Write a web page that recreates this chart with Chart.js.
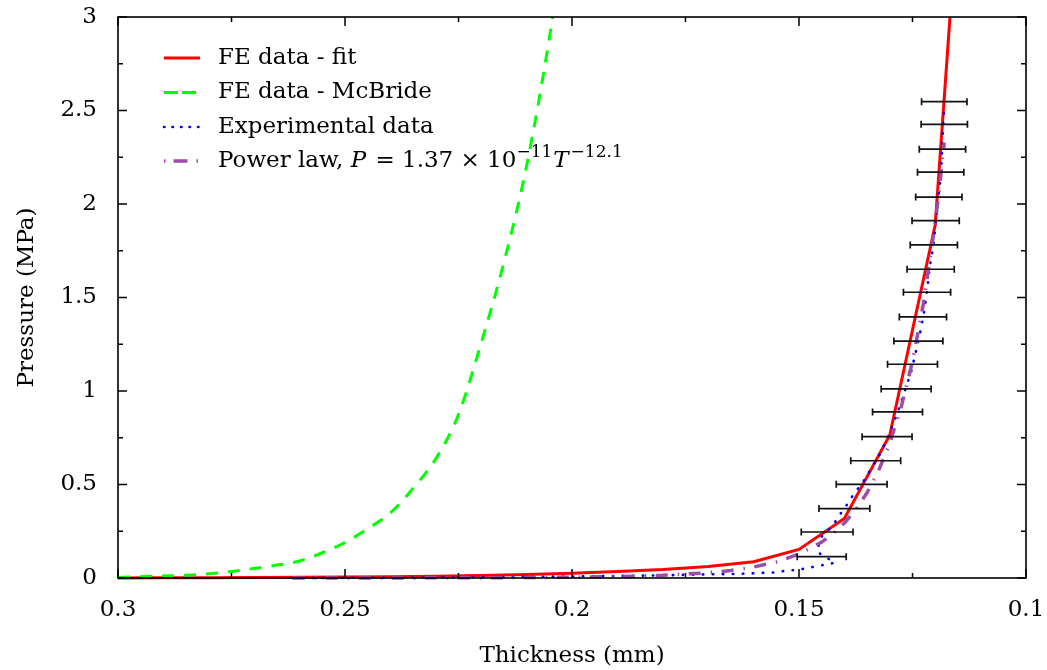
<!DOCTYPE html>
<html><head><meta charset="utf-8">
<script src="https://cdn.jsdelivr.net/npm/chart.js@4.4.1/dist/chart.umd.min.js"></script>
<style>html,body{margin:0;padding:0;background:#fff;}#wrap{width:1047px;height:670px;}</style>
</head><body><div id="wrap"><canvas id="c" width="1047" height="670"></canvas></div>
<script>
// ---- data (thickness in mm, pressure in MPa) ----
const xTickLabels = ['0.3', '0.25', '0.2', '0.15', '0.1'];
const yTickLabels = ['0', '0.5', '1', '1.5', '2', '2.5', '3'];

const fitThickness = [0.30, 0.29, 0.28, 0.27, 0.26, 0.25, 0.24, 0.23, 0.22, 0.21, 0.20, 0.19, 0.18, 0.17, 0.16, 0.15, 0.14, 0.13, 0.12, 0.11];
const fitPressure  = [0.000, 0.001, 0.002, 0.003, 0.004, 0.005, 0.007, 0.010, 0.013, 0.019, 0.026, 0.035, 0.045, 0.061, 0.087, 0.153, 0.318, 0.765, 1.888, 5.30];

const mcbrideThickness = [0.300, 0.295, 0.290, 0.285, 0.280, 0.275, 0.270, 0.265, 0.260, 0.255, 0.250, 0.245, 0.240, 0.235, 0.230, 0.225, 0.220, 0.215, 0.210, 0.205, 0.200];
const mcbridePressure  = [0.003, 0.007, 0.011, 0.015, 0.023, 0.035, 0.051, 0.069, 0.091, 0.135, 0.190, 0.264, 0.348, 0.480, 0.638, 0.874, 1.257, 1.687, 2.204, 2.884, 3.700];

const expThickness = [0.2615, 0.250, 0.240, 0.230, 0.220, 0.210, 0.200, 0.190, 0.180, 0.1696, 0.1648, 0.1601, 0.1552, 0.1529, 0.1505, 0.1483, 0.1460, 0.1437, 0.1421, 0.1460, 0.1452, 0.1436, 0.1421, 0.1408, 0.1395, 0.1382, 0.1368, 0.1355, 0.1344, 0.1319, 0.1309, 0.1300, 0.1283, 0.1268, 0.1253, 0.1242, 0.1232, 0.1223, 0.1217, 0.1212, 0.1204, 0.1199, 0.1194, 0.1189, 0.1186, 0.1184, 0.1180];
const expPressure  = [0.000, 0.001, 0.002, 0.003, 0.004, 0.006, 0.008, 0.011, 0.014, 0.020, 0.021, 0.025, 0.030, 0.039, 0.043, 0.052, 0.064, 0.073, 0.082, 0.140, 0.218, 0.253, 0.298, 0.346, 0.390, 0.439, 0.485, 0.528, 0.572, 0.675, 0.729, 0.779, 0.884, 0.993, 1.103, 1.216, 1.326, 1.440, 1.555, 1.665, 1.775, 1.891, 2.007, 2.119, 2.226, 2.350, 2.520];

const powerThickness = [0.2615, 0.240, 0.220, 0.200, 0.190, 0.180, 0.170, 0.165, 0.160, 0.155, 0.150, 0.145, 0.1425, 0.140, 0.1375, 0.135, 0.1325, 0.130, 0.1275, 0.125, 0.1225, 0.120, 0.119, 0.118];
const powerPressure  = [0.0002, 0.0004, 0.0012, 0.0039, 0.0073, 0.0141, 0.0281, 0.0403, 0.0585, 0.0858, 0.1277, 0.1923, 0.2375, 0.2942, 0.3658, 0.4568, 0.5726, 0.7214, 0.9125, 1.1588, 1.479, 1.899, 2.101, 2.329];

const barPressure  = [0.114, 0.246, 0.371, 0.501, 0.627, 0.756, 0.888, 1.011, 1.143, 1.267, 1.396, 1.528, 1.651, 1.781, 1.911, 2.037, 2.170, 2.293, 2.426, 2.547];
const barThickness = [0.1450, 0.1438, 0.1400, 0.1362, 0.1331, 0.1306, 0.1283, 0.1264, 0.1250, 0.1237, 0.1227, 0.1218, 0.1210, 0.1203, 0.1199, 0.1192, 0.1188, 0.1184, 0.1180, 0.1180];
const barError     = [0.0054, 0.0057, 0.0056, 0.0056, 0.0055, 0.0055, 0.0055, 0.0055, 0.0055, 0.0054, 0.0052, 0.0052, 0.0052, 0.0052, 0.0052, 0.0051, 0.0051, 0.0051, 0.0051, 0.0050];

const seriesLabels = ['FE data - fit', 'FE data - McBride', 'Experimental data', 'Power law, P = 1.37 × 10−11 T−12.1'];

// ---- drawing ----
const FAM = '"DejaVu Serif", serif';
const FS = 23;
const pts = (xs, ys) => xs.map((v, i) => ({x: v, y: ys[i]}));
const CLIP = {left: 2, top: 0, right: 0, bottom: 3};

const errorBars = {
  id: 'errorBars',
  afterDatasetsDraw(chart) {
    const {ctx, scales: {x, y}} = chart;
    ctx.save();
    ctx.strokeStyle = '#111'; ctx.lineWidth = 1.7; ctx.setLineDash([]);
    ctx.beginPath();
    barPressure.forEach((p, i) => {
      const py = y.getPixelForValue(p);
      const x1 = x.getPixelForValue(barThickness[i] - barError[i]);
      const x2 = x.getPixelForValue(barThickness[i] + barError[i]);
      ctx.moveTo(x1, py); ctx.lineTo(x2, py);
      ctx.moveTo(x1, py - 3.5); ctx.lineTo(x1, py + 3.5);
      ctx.moveTo(x2, py - 3.5); ctx.lineTo(x2, py + 3.5);
    });
    ctx.stroke();
    ctx.restore();
  }
};

const frameTicks = {
  id: 'frameTicks',
  afterDraw(chart) {
    const {ctx, chartArea: a, scales: {x, y}} = chart;
    ctx.save();
    ctx.strokeStyle = '#000'; ctx.lineWidth = 1.5; ctx.setLineDash([]);
    ctx.beginPath();
    for (let i = 0; i <= 8; i++) {
      const px = x.getPixelForValue(0.1 + i * 0.025);
      const L = i % 2 === 0 ? 9 : 5;
      ctx.moveTo(px, a.bottom); ctx.lineTo(px, a.bottom - L);
      ctx.moveTo(px, a.top); ctx.lineTo(px, a.top + L);
    }
    for (let i = 0; i <= 12; i++) {
      const py = y.getPixelForValue(i * 0.25);
      const L = i % 2 === 0 ? 9 : 5;
      ctx.moveTo(a.left, py); ctx.lineTo(a.left + L, py);
      ctx.moveTo(a.right, py); ctx.lineTo(a.right - L, py);
    }
    ctx.stroke();
    ctx.lineWidth = 1.6;
    ctx.strokeRect(a.left, a.top, a.right - a.left, a.bottom - a.top);
    ctx.restore();
  }
};

const keyBox = {
  id: 'keyBox',
  beforeDatasetsDraw(chart) {
    const ctx = chart.ctx;
    const rows = [58, 92.5, 127, 161];
    ctx.save();
    chart.data.datasets.forEach((ds, i) => {
      const yy = rows[i];
      ctx.strokeStyle = ds.borderColor;
      ctx.lineWidth = ds.borderWidth;
      ctx.lineCap = ds.borderCapStyle || 'butt';
      ctx.setLineDash(ds.legendDash || ds.borderDash || []);
      ctx.beginPath(); ctx.moveTo(164, yy); ctx.lineTo(200, yy); ctx.stroke();
      ctx.setLineDash([]);
      ctx.fillStyle = '#000';
      ctx.textBaseline = 'middle';
      ctx.textAlign = 'left';
      if (i < 3) {
        ctx.font = `${FS}px ${FAM}`;
        ctx.fillText(ds.label, 218, yy);
      } else {
        const parts = [
          ['Power law, ', 'n'], ['P', 'i'], [' = 1.37 × 10', 'n'], ['−11', 's'], ['T', 'i'], ['−12.1', 's']
        ];
        let cx = 218;
        parts.forEach(([t, s]) => {
          let dy = 0;
          if (s === 'n') ctx.font = `${FS}px ${FAM}`;
          else if (s === 'i') ctx.font = `italic ${FS}px ${FAM}`;
          else { ctx.font = `${Math.round(FS * 0.72)}px ${FAM}`; dy = -8; }
          ctx.fillText(t, cx, yy + dy);
          cx += ctx.measureText(t).width + (s === 'i' ? 2 : (s === 's' ? 1 : 0));
        });
      }
    });
    ctx.restore();
  }
};

const pickLabel = (list) => (v) => {
  const hit = list.find(l => Math.abs(parseFloat(l) - v) < 1e-6);
  return hit === undefined ? '' : hit;
};

new Chart(document.getElementById('c'), {
  type: 'scatter',
  data: {
    datasets: [
      {label: seriesLabels[0], data: pts(fitThickness, fitPressure), showLine: true, borderColor: '#ff0000', borderWidth: 3, pointRadius: 0, order: 4, clip: CLIP},
      {label: seriesLabels[1], data: pts(mcbrideThickness, mcbridePressure), showLine: true, cubicInterpolationMode: 'monotone', borderColor: '#00ff00', borderWidth: 3, borderDash: [12, 10], legendDash: [14, 4, 14, 4], pointRadius: 0, order: 3, clip: CLIP},
      {label: seriesLabels[2], data: pts(expThickness, expPressure), showLine: true, borderColor: '#0000ff', borderWidth: 2.6, borderDash: [0.5, 9.5], legendDash: [0.5, 8], borderCapStyle: 'round', pointRadius: 0, order: 2, clip: CLIP},
      {label: seriesLabels[3], data: pts(powerThickness, powerPressure), showLine: true, borderColor: '#9a4ea5', borderWidth: 3.5, borderDash: [12, 10, 1.5, 9.5], legendDash: [1.5, 8, 14, 9, 1.5, 3], pointRadius: 0, order: 1, clip: CLIP}
    ]
  },
  options: {
    responsive: false,
    animation: false,
    devicePixelRatio: 1,
    layout: {padding: {top: 17, right: 21, left: 0, bottom: 0}},
    plugins: {legend: {display: false}, tooltip: {enabled: false}},
    scales: {
      x: {
        type: 'linear', min: 0.1, max: 0.3, reverse: true,
        grid: {display: false}, border: {display: false},
        ticks: {stepSize: 0.05, padding: 10, maxRotation: 0, autoSkip: false, color: '#000', font: {family: FAM, size: FS}, callback: pickLabel(xTickLabels)},
        title: {display: true, text: 'Thickness (mm)', color: '#000', font: {family: FAM, size: FS}, padding: {top: 0, bottom: 0}},
        afterFit: (s) => { s.height = 92; s.paddingLeft = 0; s.paddingRight = 0; }
      },
      y: {
        type: 'linear', min: 0, max: 3,
        grid: {display: false}, border: {display: false},
        ticks: {stepSize: 0.5, padding: 13, color: '#000', font: {family: FAM, size: FS}, callback: pickLabel(yTickLabels)},
        title: {display: true, text: 'Pressure (MPa)', color: '#000', font: {family: FAM, size: FS}, padding: {top: 13, bottom: 0}},
        afterFit: (s) => { s.width = 118; s.paddingTop = 0; s.paddingBottom = 0; }
      }
    }
  },
  plugins: [keyBox, errorBars, frameTicks]
});
</script>
</body></html>
